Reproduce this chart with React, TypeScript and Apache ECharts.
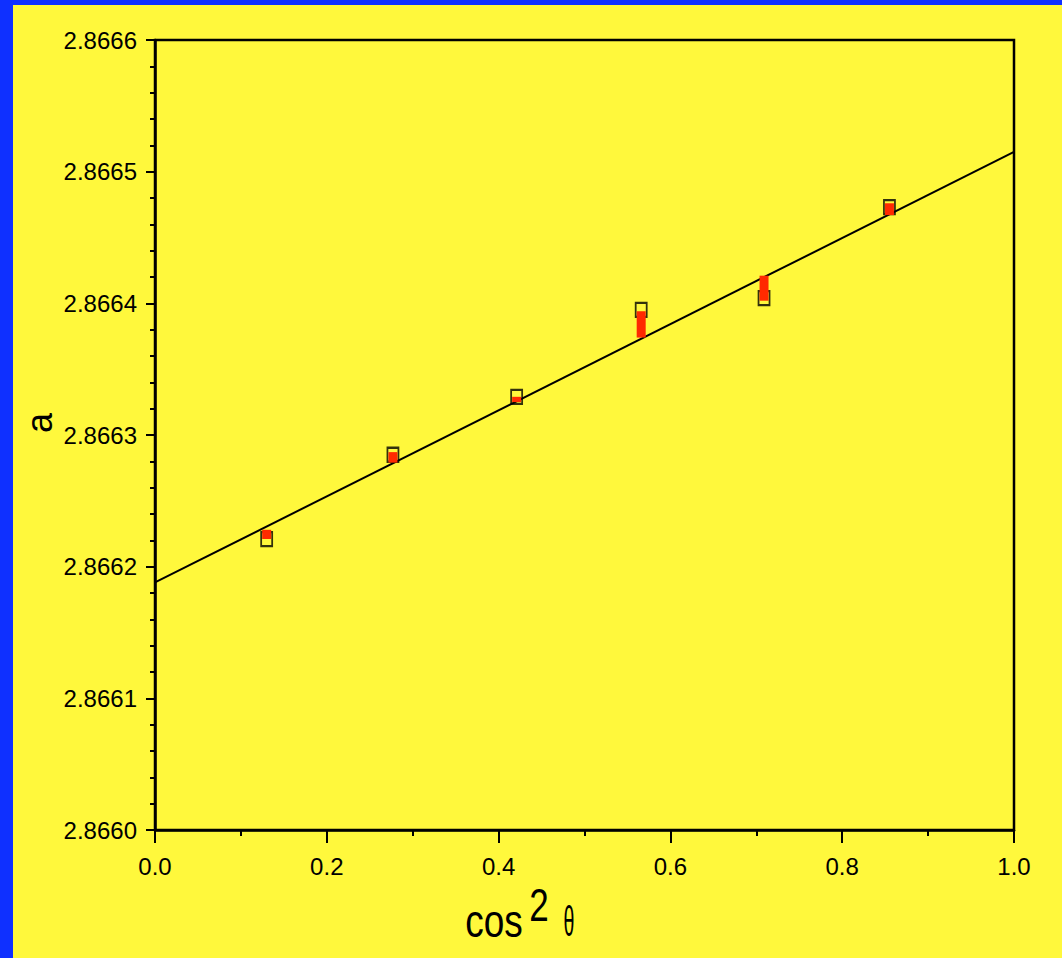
import React, { useEffect, useRef } from "react";
import * as echarts from "echarts";

const xValues = [0.13, 0.277, 0.421, 0.566, 0.709, 0.855];
const aValues = [2.866221, 2.866285, 2.866329, 2.866395, 2.866404, 2.866473];
const redLow = [2.866221, 2.866279, 2.866325, 2.866374, 2.866402, 2.866467];
const redHigh = [2.866228, 2.866287, 2.866329, 2.866394, 2.866421, 2.866476];
const fitX = [0, 1];
const fitA = [2.866188, 2.866515];
const xTicks = { min: 0, max: 1, interval: 0.2 };
const yTicks = { min: 2.866, max: 2.8666, interval: 0.0001 };

const YELLOW = "#fff83c";
const BLUE = "#0f30ff";
const FONT = "Liberation Sans, Arial, sans-serif";

export default function App() {
  const ref = useRef<HTMLDivElement>(null);
  useEffect(() => {
    if (!ref.current) return;
    const chart = echarts.init(ref.current, undefined, { renderer: "svg" });
    const squares = xValues.map((x, i) => [x, aValues[i]]);
    const bars = xValues.map((x, i) => [x, redLow[i], redHigh[i]]);
    const fit = fitX.map((x, i) => [x, fitA[i]]);
    chart.setOption({
      animation: false,
      backgroundColor: BLUE,
      grid: {
        left: 155,
        top: 40,
        right: 48,
        bottom: 128,
        show: true,
        borderColor: "#000",
        borderWidth: 2.5,
        backgroundColor: "transparent",
      },
      graphic: [
        {
          type: "rect",
          z: -100,
          shape: { x: 13, y: 5, width: 1062 - 13, height: 958 - 5 },
          style: { fill: YELLOW },
        },
        {
          type: "text",
          z: 100,
          x: 494,
          y: 921,
          scaleY: 1.25,
          style: {
            text: "cos",
            fontSize: 37,
            fontFamily: FONT,
            fill: "#000",
            align: "center",
            verticalAlign: "middle",
          },
        },
        {
          type: "text",
          z: 100,
          x: 539,
          y: 905,
          scaleY: 1.3,
          style: {
            text: "2",
            fontSize: 35,
            fontFamily: FONT,
            fill: "#000",
            align: "center",
            verticalAlign: "middle",
          },
        },
        {
          type: "text",
          z: 100,
          x: 569,
          y: 921,
          scaleX: 0.7,
          scaleY: 1.55,
          style: {
            text: "θ",
            fontSize: 28,
            fontFamily: FONT,
            fill: "#000",
            align: "center",
            verticalAlign: "middle",
          },
        },
        {
          type: "text",
          z: 100,
          x: 39,
          y: 423,
          rotation: Math.PI / 2,
          style: {
            text: "a",
            fontSize: 36,
            fontFamily: FONT,
            fill: "#000",
            align: "center",
            verticalAlign: "middle",
          },
        },
      ],
      xAxis: {
        type: "value",
        min: xTicks.min,
        max: xTicks.max,
        interval: xTicks.interval,
        axisLine: { show: true, onZero: false, lineStyle: { color: "#000", width: 2.5 } },
        axisTick: { show: true, inside: false, length: 13, lineStyle: { color: "#000", width: 2 } },
        minorTick: { show: true, splitNumber: 2, length: 6, lineStyle: { color: "#000", width: 2 } },
        splitLine: { show: false },
        axisLabel: {
          margin: 24,
          fontSize: 24,
          fontFamily: FONT,
          color: "#000",
          formatter: (v: number) => v.toFixed(1),
        },
      },
      yAxis: {
        type: "value",
        min: yTicks.min,
        max: yTicks.max,
        interval: yTicks.interval,
        axisLine: { show: true, onZero: false, lineStyle: { color: "#000", width: 2.5 } },
        axisTick: { show: true, inside: false, length: 9, lineStyle: { color: "#000", width: 2 } },
        minorTick: { show: true, splitNumber: 5, length: 5, lineStyle: { color: "#000", width: 2 } },
        splitLine: { show: false },
        axisLabel: {
          margin: 18,
          fontSize: 24,
          fontFamily: FONT,
          color: "#000",
          formatter: (v: number) => v.toFixed(4),
        },
      },
      series: [
        {
          type: "line",
          data: fit,
          symbol: "none",
          lineStyle: { color: "#000", width: 2 },
          z: 2,
        },
        {
          type: "scatter",
          data: squares,
          symbol: "rect",
          symbolSize: [11, 14],
          itemStyle: { color: "rgba(0,0,0,0)", borderColor: "#000", borderWidth: 2 },
          z: 3,
        },
        {
          type: "custom",
          data: bars,
          z: 4,
          renderItem: (params: any, api: any) => {
            const x = api.value(0);
            const lo = api.coord([x, api.value(1)]);
            const hi = api.coord([x, api.value(2)]);
            const h = Math.max(lo[1] - hi[1], 5);
            return {
              type: "rect",
              shape: { x: lo[0] - 4.5, y: hi[1], width: 9, height: h },
              style: { fill: "#ff2a00" },
            };
          },
        },
      ],
    });
    return () => chart.dispose();
  }, []);
  return (
    <div
      ref={ref}
      style={{ position: "fixed", left: 0, top: 0, width: 1062, height: 958 }}
    />
  );
}
